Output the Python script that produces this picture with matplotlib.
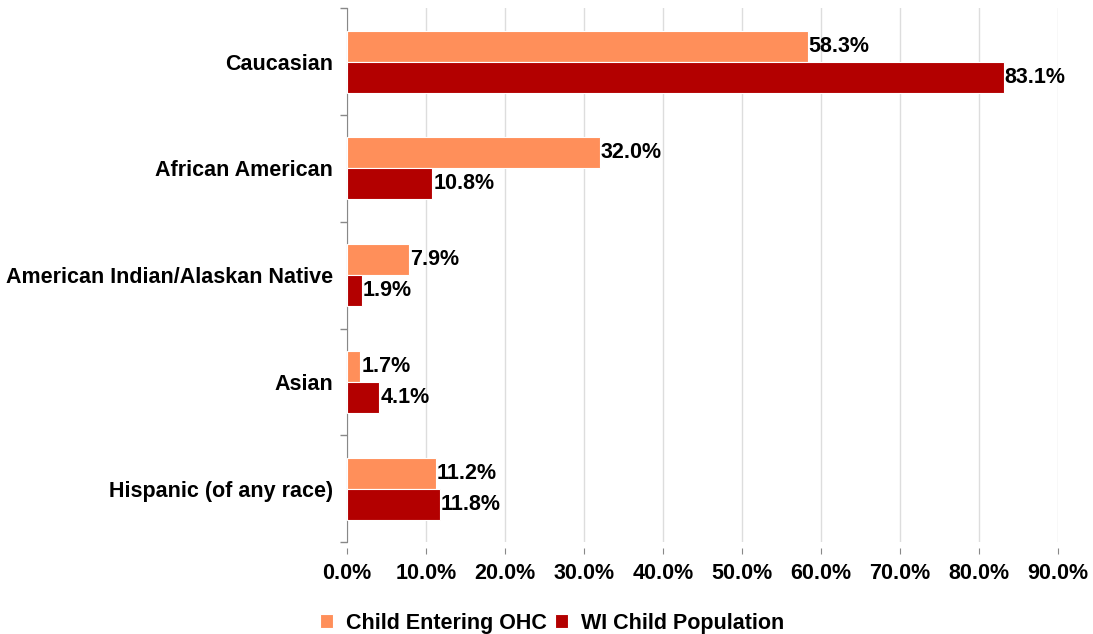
import numpy as np
import matplotlib
matplotlib.use("Agg")
import matplotlib.pyplot as plt
from matplotlib.ticker import FixedLocator, FuncFormatter

plt.rcParams['font.family'] = ['Liberation Sans', 'DejaVu Sans']
plt.rcParams['font.weight'] = 'bold'

categories = ['Caucasian', 'African American', 'American Indian/Alaskan Native',
              'Asian', 'Hispanic (of any race)']
ohc = [58.3, 32.0, 7.9, 1.7, 11.2]
population = [83.1, 10.8, 1.9, 4.1, 11.8]
series_names = ['Child Entering OHC', 'WI Child Population']
colors = ['#FF8F5A', '#B30000']

fig = plt.figure(figsize=(10.93, 6.34), dpi=100)
ax = fig.add_axes([0.3175, 0.145, 0.6505, 0.842])

y = np.arange(len(categories))
h = 0.29
b1 = ax.barh(y - h / 2, ohc, height=h, color=colors[0], edgecolor='white',
             linewidth=0.8, label=series_names[0], zorder=3)
b2 = ax.barh(y + h / 2, population, height=h, color=colors[1], edgecolor='white',
             linewidth=0.8, label=series_names[1], zorder=3)

for bars, vals in [(b1, ohc), (b2, population)]:
    for bar, v in zip(bars, vals):
        ax.text(bar.get_width() + 0.1, bar.get_y() + bar.get_height() / 2,
                '%.1f%%' % v, va='center', ha='left', fontsize=15.5,
                fontweight='bold', color='black', zorder=4)

ax.set_xlim(0, 90)
ax.set_ylim(len(categories) - 0.5, -0.5)
ax.set_xticks(np.arange(0, 91, 10))
ax.xaxis.set_major_formatter(FuncFormatter(lambda v, p: '%.1f%%' % v))
ax.set_yticks(y)
ax.set_yticklabels(categories)
ax.yaxis.set_minor_locator(FixedLocator(np.arange(-0.5, len(categories), 1)))
ax.tick_params(axis='y', which='major', length=0, pad=10, labelsize=15.5)
ax.tick_params(axis='y', which='minor', length=5, color='#888888', width=1)
ax.tick_params(axis='x', length=4, color='#888888', pad=7, labelsize=15.5,
               direction='out')
for lbl in ax.get_xticklabels() + ax.get_yticklabels():
    lbl.set_fontweight('bold')

ax.grid(axis='x', color='#DDDDDD', linewidth=1, zorder=0)
for s in ['top', 'right', 'bottom']:
    ax.spines[s].set_visible(False)
ax.spines['left'].set_color('#888888')
ax.spines['bottom'].set_position(('outward', 4))

leg = fig.legend(handles=[b1, b2], loc='lower center', bbox_to_anchor=(0.505, -0.03),
                 ncol=2, frameon=False, fontsize=15.5, handlelength=0.6,
                 handleheight=0.6, handletextpad=0.6, columnspacing=0.4)
for t in leg.get_texts():
    t.set_fontweight('bold')

fig.savefig('out.png', dpi=100)
